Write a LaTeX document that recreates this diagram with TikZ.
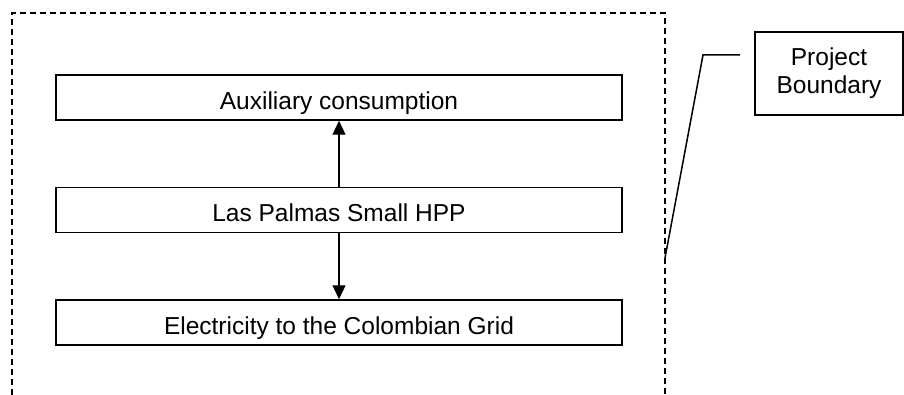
\documentclass[tikz,border=0pt]{standalone}
\usepackage{fontspec}
\setmainfont{Liberation Sans}
\usetikzlibrary{arrows.meta}
\begin{document}
\begin{tikzpicture}[x=1pt,y=-1pt,
  flowbox/.style={draw,line width=1.5pt,minimum width=566pt,minimum height=45pt,inner sep=0pt,
    font=\fontsize{24.5}{28}\selectfont,text height=24pt,text depth=0pt},
  labelbox/.style={draw,line width=1.5pt,minimum width=148pt,minimum height=83pt,inner sep=0pt,
    align=center,font=\fontsize{24.5}{28}\selectfont},
  boundary/.style={line width=1.5pt,dash pattern=on 6pt off 4pt},
  flow/.style={line width=1.3pt,-{Triangle[length=14pt,width=13pt]}},
  callout/.style={line width=1.5pt}]
\useasboundingbox (0,0) rectangle (904,395);
\draw[boundary] (12,395) -- (12,13) -- (665,13) -- (665,395);
\node[flowbox] (aux) at (339,97.5) {Auxiliary consumption};
\node[flowbox] (hpp) at (339,210) {Las Palmas Small HPP};
\node[flowbox] (grid) at (339,322.5) {Electricity to the Colombian Grid};
\node[labelbox] (pb) at (829,73.5) {Project\\Boundary};
\draw[flow] (hpp.north) -- (aux.south);
\draw[flow] (hpp.south) -- (grid.north);
\coordinate (c1) at (740,55);
\coordinate (c2) at (703,55);
\coordinate (c3) at (665,258);
\draw[callout] (c1) -- (c2) -- (c3);
\end{tikzpicture}
\end{document}
